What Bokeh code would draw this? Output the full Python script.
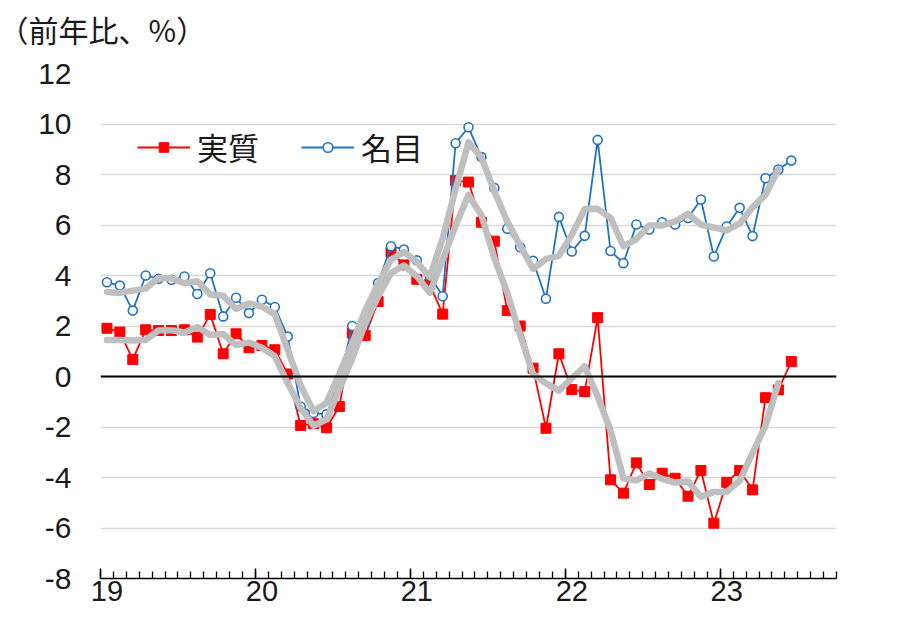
from bokeh.plotting import figure
from bokeh.layouts import column
from bokeh.models import Range1d, FixedTicker, LinearAxis, Span, Legend, LegendItem, ColumnDataSource, Label
from bokeh.embed import file_html
from bokeh.resources import INLINE

# Monthly, Jan 2019 .. Jun 2023 (year-on-year, %)
real = [1.91, 1.76, 0.67, 1.85, 1.82, 1.82, 1.85, 1.56, 2.46, 0.90, 1.69, 1.14,
        1.23, 1.06, 0.10, -1.94, -1.87, -2.03, -1.19, 1.72, 1.62, 2.97, 4.92, 4.42,
        3.85, 3.65, 2.47, 7.76, 7.70, 6.11, 5.36, 2.61, 2.00, 0.33, -2.05, 0.90,
        -0.52, -0.60, 2.33, -4.09, -4.62, -3.42, -4.28, -3.83, -4.03, -4.74, -3.72, -5.81,
        -4.19, -3.72, -4.49, -0.84, -0.53, 0.59]
nominal = [3.73, 3.60, 2.61, 4.00, 3.87, 3.83, 3.96, 3.27, 4.09, 2.38, 3.12, 2.51,
           3.04, 2.75, 1.58, -1.19, -1.45, -1.50, -0.16, 2.00, 2.15, 3.70, 5.16, 5.03,
           4.60, 4.00, 3.18, 9.24, 9.87, 8.69, 7.47, 5.85, 5.12, 4.58, 3.08, 6.32,
           4.95, 5.57, 9.37, 4.97, 4.49, 6.02, 5.82, 6.11, 6.02, 6.28, 7.01, 4.75,
           5.94, 6.68, 5.56, 7.85, 8.20, 8.55]
# centred 3-month averages (gray lines), Jan 2019 .. May 2023
real_ma = [1.45, 1.45, 1.43, 1.45, 1.83, 1.83, 1.74, 1.96, 1.64, 1.68, 1.24, 1.35,
           1.14, 0.80, -0.26, -1.24, -1.95, -1.70, -0.50, 0.72, 2.10, 3.17, 4.10, 4.40,
           3.97, 3.32, 4.63, 5.98, 7.19, 6.39, 4.69, 3.32, 1.65, 0.09, -0.27, -0.56,
           -0.07, 0.40, -0.79, -2.13, -4.04, -4.11, -3.84, -4.05, -4.20, -4.16, -4.76, -4.57,
           -4.57, -4.13, -3.02, -1.95, -0.26]
nominal_ma = [3.35, 3.31, 3.40, 3.49, 3.90, 3.89, 3.69, 3.77, 3.25, 3.20, 2.67, 2.89,
              2.77, 2.46, 1.05, -0.35, -1.38, -1.04, 0.11, 1.33, 2.62, 3.67, 4.63, 4.93,
              4.54, 3.93, 5.47, 7.43, 9.27, 8.68, 7.34, 6.15, 5.18, 4.26, 4.66, 4.78,
              5.61, 6.63, 6.64, 6.28, 5.16, 5.44, 5.98, 5.98, 6.14, 6.44, 6.01, 5.90,
              5.79, 6.06, 6.70, 7.20, 8.20]
year_labels = ["19", "20", "21", "22", "23"]
y_ticks = [-8, -6, -4, -2, 0, 2, 4, 6, 8, 10, 12]
y_tick_labels = ["-8", "-6", "-4", "-2", "0", "2", "4", "6", "8", "10", "12"]
series_names = ["実質", "名目"]
title_text = "（前年比、%）"

n_months_axis = 57  # Jan 2019 .. Sep 2023 on the axis

x = list(range(len(real)))
x_ma = list(range(len(real_ma)))

JP = "Noto Sans CJK JP"
NUM = "Liberation Sans"
RED = "#ff0000"
BLUE = "#1f72c4"
GRAY = "#bfbfbf"
TXT = "#1a1a1a"

W = 899
TITLE_H = 56

# ---- title strip (unit note) ----
pt = figure(width=W, height=TITLE_H, x_range=Range1d(0, W), y_range=Range1d(0, TITLE_H),
            x_axis_type=None, y_axis_type=None, output_backend="svg", toolbar_location=None,
            min_border=0, min_border_left=0, min_border_right=0,
            min_border_top=0, min_border_bottom=0)
pt.frame_align = False
pt.outline_line_color = None
pt.grid.visible = False
pt.background_fill_color = "white"
pt.border_fill_color = "white"
pt.add_layout(Label(x=0, y=TITLE_H - 28, x_offset=-2, text=title_text, text_font=JP,
                    text_font_size="30px", text_color=TXT,
                    text_baseline="middle", text_align="left"))

# ---- main chart ----
p = figure(width=W, height=614 - TITLE_H,
           x_range=Range1d(-0.5, n_months_axis - 0.5), y_range=Range1d(-8, 12),
           output_backend="svg", toolbar_location=None,
           min_border_left=100, min_border_right=63, min_border_top=73 - TITLE_H,
           min_border_bottom=36)
p.frame_align = False
p.outline_line_color = None
p.background_fill_color = "white"
p.border_fill_color = "white"

# grid
p.xgrid.visible = False
p.ygrid.ticker = FixedTicker(ticks=y_ticks)
p.ygrid.grid_line_color = "#d9d9d9"
p.ygrid.grid_line_width = 1.5

# y axis
p.yaxis.ticker = FixedTicker(ticks=y_ticks)
p.yaxis.major_label_overrides = {t: s for t, s in zip(y_ticks, y_tick_labels)}
p.yaxis.axis_line_color = None
p.yaxis.major_tick_line_color = None
p.yaxis.minor_tick_line_color = None
p.yaxis.major_label_text_font = NUM
p.yaxis.major_label_text_font_size = "30px"
p.yaxis.major_label_text_color = TXT
p.yaxis.major_label_standoff = 23

# x axis: ticks at month/year boundaries (no labels)
year_starts = [12 * i for i in range(len(year_labels))]
year_bounds = [s - 0.5 for s in year_starts]
xa = p.xaxis[0]
xa.ticker = FixedTicker(ticks=year_bounds,
                        minor_ticks=[k - 0.5 for k in range(n_months_axis + 1)])
xa.major_label_overrides = {b: "" for b in year_bounds}
xa.major_label_text_font_size = "1px"
xa.major_label_standoff = 0
xa.major_tick_in = 10
xa.major_tick_out = 0
xa.minor_tick_in = 7
xa.minor_tick_out = 0
xa.axis_line_color = "black"
xa.axis_line_width = 1.5
xa.major_tick_line_color = "black"
xa.major_tick_line_width = 1.5
xa.minor_tick_line_color = "black"
xa.minor_tick_line_width = 1.3

# x axis labels centred on January
xl = LinearAxis(ticker=FixedTicker(ticks=year_starts, minor_ticks=[]),
                major_label_overrides={s: l for s, l in zip(year_starts, year_labels)})
xl.axis_line_color = None
xl.major_tick_line_color = None
xl.minor_tick_line_color = None
xl.major_tick_in = 0
xl.major_tick_out = 0
xl.major_label_text_font = NUM
xl.major_label_text_font_size = "29px"
xl.major_label_text_color = TXT
xl.major_label_standoff = 2
p.add_layout(xl, "below")

# zero line
p.add_layout(Span(location=0, dimension="width", line_color="black", line_width=2))

src = ColumnDataSource(data=dict(x=x, real=real, nominal=nominal))
src_ma = ColumnDataSource(data=dict(x=x_ma, real_ma=real_ma, nominal_ma=nominal_ma))

r_line = p.line("x", "real", source=src, line_color=RED, line_width=1.8)
r_sc = p.scatter("x", "real", source=src, marker="square", size=10,
                 fill_color=RED, line_color=RED)
n_line = p.line("x", "nominal", source=src, line_color=BLUE, line_width=1.8)
n_sc = p.scatter("x", "nominal", source=src, marker="circle", size=9,
                 fill_color="white", line_color=BLUE, line_width=1.6)

p.line("x", "real_ma", source=src_ma, line_color=GRAY, line_width=6.5,
       line_join="round", line_cap="round")
p.line("x", "nominal_ma", source=src_ma, line_color=GRAY, line_width=6.5,
       line_join="round", line_cap="round")

legend = Legend(items=[LegendItem(label=series_names[0], renderers=[r_line, r_sc]),
                       LegendItem(label=series_names[1], renderers=[n_line, n_sc])],
                location=(37, 409), orientation="horizontal",
                glyph_width=53, glyph_height=24,
                label_text_font=JP, label_text_font_size="31px",
                label_text_color=TXT,
                label_standoff=7, spacing=42, padding=0, margin=0,
                border_line_alpha=0, background_fill_alpha=0)
p.add_layout(legend)

layout = column(pt, p, spacing=0)
open("out.html", "w").write(file_html(layout, INLINE))
